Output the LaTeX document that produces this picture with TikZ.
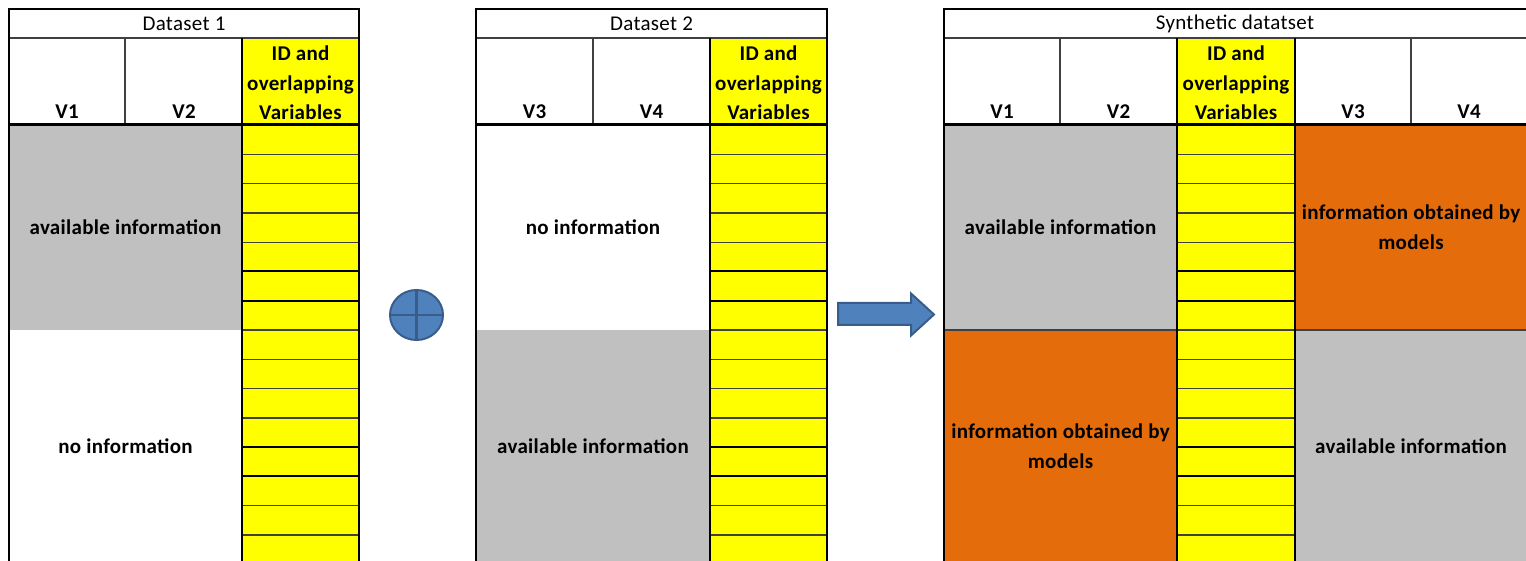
\documentclass[tikz,border=0pt]{standalone}
\usepackage{fontspec}
\setmainfont{Carlito}[LetterSpace=1.5]
\usetikzlibrary{shapes.geometric}
\definecolor{greyc}{HTML}{C0C0C0}
\definecolor{yelc}{HTML}{FFFF00}
\definecolor{orac}{HTML}{E46C0A}
\definecolor{bluef}{HTML}{4F81BD}
\definecolor{blueb}{HTML}{385D8A}
\definecolor{linec}{HTML}{404040}
\newcommand{\ycolumn}[2]{%
  \fill[yelc] (#1,38) rectangle (#2,561);
  \foreach \i in {1,2,3,4,7,8,9,10,13,14}{\draw[rowthin] (#1,{125+\i*29.29}) -- (#2,{125+\i*29.29});}
  \foreach \i in {5,6,11,12}{\draw[rowthick] (#1,{125+\i*29.29}) -- (#2,{125+\i*29.29});}
}
\begin{document}
\begin{tikzpicture}[x=1pt,y=-1pt,
  lbl/.style={font=\fontsize{21}{29.5}\selectfont\bfseries, align=center, inner sep=0pt, text=black},
  ttl/.style={font=\fontsize{21}{29.5}\selectfont, inner sep=0pt, text=black},
  border/.style={draw=black, line width=2pt},
  thinl/.style={draw=linec, line width=1.6pt},
  headl/.style={draw=black, line width=3pt},
  rowthin/.style={draw=linec, line width=1.3pt},
  rowthick/.style={draw=black, line width=2pt}]
\useasboundingbox (0,0) rectangle (1526,561);
\fill[white] (0,0) rectangle (1526,561);
% ---------- Dataset 1
\fill[greyc] (9,125) rectangle (242,330);
\ycolumn{242}{359}
\draw[thinl] (125,38) -- (125,125);
\draw[thinl] (9,38) -- (359,38);
\draw[headl] (9,125) -- (359,125);
\draw[border] (242,38) -- (242,561);
\draw[border] (9,561) -- (9,9) -- (359,9) -- (359,561);
\node[ttl] (t1) at (184,24) {Dataset 1};
\node[lbl] (h1a) at (67,112) {V1};
\node[lbl] (h1b) at (184,112) {V2};
\node[lbl] (h1c) at (300.5,83) {ID and\\overlapping\\Variables};
\node[lbl] (a1) at (125.5,227) {available information};
\node[lbl] (n1) at (125.5,446) {no information};
% ---------- Dataset 2
\fill[greyc] (476,330) rectangle (710,561);
\ycolumn{710}{827}
\draw[thinl] (593,38) -- (593,125);
\draw[thinl] (476,38) -- (827,38);
\draw[headl] (476,125) -- (827,125);
\draw[border] (710,38) -- (710,561);
\draw[border] (476,561) -- (476,9) -- (827,9) -- (827,561);
\node[ttl] (t2) at (651.5,24) {Dataset 2};
\node[lbl] (h2a) at (534.5,112) {V3};
\node[lbl] (h2b) at (651.5,112) {V4};
\node[lbl] (h2c) at (768.5,83) {ID and\\overlapping\\Variables};
\node[lbl] (n2) at (593,227) {no information};
\node[lbl] (a2) at (593,446) {available information};
% ---------- Synthetic dataset
\fill[greyc] (944,125) rectangle (1177,330);
\fill[orac] (944,330) rectangle (1177,561);
\fill[orac] (1295,125) rectangle (1527,330);
\fill[greyc] (1295,330) rectangle (1527,561);
\ycolumn{1177}{1295}
\draw[thinl] (1060,38) -- (1060,125);
\draw[thinl] (1411,38) -- (1411,125);
\draw[thinl] (1295,330) -- (1527,330);
\draw[thinl] (944,330) -- (1177,330);
\draw[thinl] (944,38) -- (1527,38);
\draw[headl] (944,125) -- (1527,125);
\draw[border] (1177,38) -- (1177,561);
\draw[border] (1295,38) -- (1295,561);
\draw[border] (944,561) -- (944,9) -- (1527,9);
\node[ttl] (t3) at (1235,24) {Synthetic datatset};
\node[lbl] (h3a) at (1002,112) {V1};
\node[lbl] (h3b) at (1118.5,112) {V2};
\node[lbl] (h3c) at (1236,83) {ID and\\overlapping\\Variables};
\node[lbl] (h3d) at (1353,112) {V3};
\node[lbl] (h3e) at (1469,112) {V4};
\node[lbl] (a3) at (1060.5,227) {available information};
\node[lbl] (o3) at (1411,227) {information obtained by\\models};
\node[lbl] (o4) at (1060.5,446) {information obtained by\\models};
\node[lbl] (a4) at (1411,446) {available information};
% ---------- plus sign
\node[ellipse, draw=blueb, fill=bluef, line width=2pt, minimum width=53pt, minimum height=50pt, inner sep=0pt] (plus) at (416.5,315) {};
\draw[blueb, line width=2.5pt] (plus.north) -- (plus.south);
\draw[blueb, line width=2.5pt] (plus.west) -- (plus.east);
% ---------- arrow
\draw[draw=blueb, fill=bluef, line width=2pt, line join=miter]
  (838,303) -- (911,303) -- (911,293.5) -- (934,314.5) -- (911,335.5) -- (911,325) -- (838,325) -- cycle;
\end{tikzpicture}
\end{document}
